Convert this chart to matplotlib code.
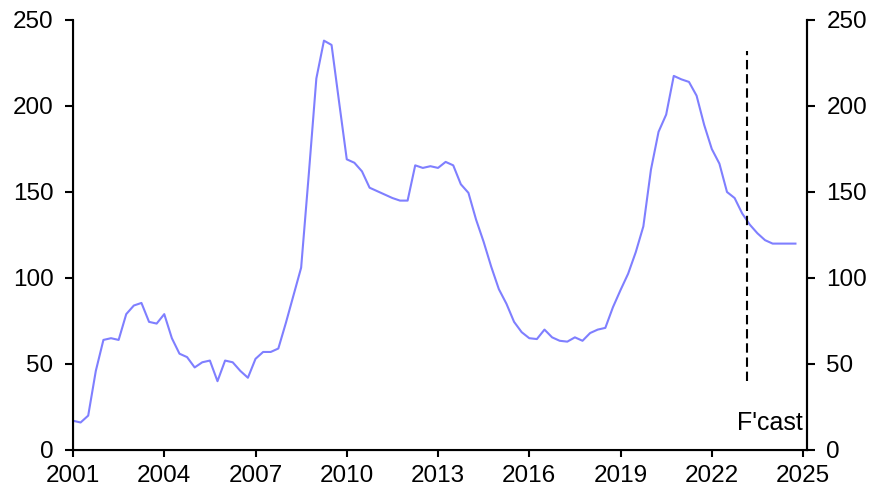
import numpy as np
import matplotlib
matplotlib.use("Agg")
import matplotlib.pyplot as plt

plt.rcParams['font.family'] = ['Liberation Sans', 'DejaVu Sans']

# quarterly series, 2001 Q1 to 2024 Q4 (last quarters are forecast)
start_year = 2001
values = [
    17, 16, 20, 46,          # 2001
    64, 65, 64, 79,          # 2002
    84, 85.5, 74.5, 73.5,    # 2003
    79, 65, 56, 54,          # 2004
    48, 51, 52, 40,          # 2005
    52, 51, 46, 42,          # 2006
    53, 57, 57, 59,          # 2007
    74, 90, 106, 160,        # 2008
    216, 238, 235.5, 202,    # 2009
    169, 167, 162, 152.5,    # 2010
    150.5, 148.5, 146.5, 145,  # 2011
    145, 165.5, 164, 165,    # 2012
    164, 167.5, 165.5, 154.5,  # 2013
    149.5, 134, 121, 106.5,  # 2014
    93.5, 85, 74.5, 68.5,    # 2015
    65, 64.5, 70, 65.5,      # 2016
    63.5, 63, 65.5, 63.5,    # 2017
    68, 70, 71, 83,          # 2018
    93, 102.5, 115, 130,     # 2019
    163, 185, 195, 217.5,    # 2020
    215.5, 214, 206, 189,    # 2021
    175, 166.5, 150, 146.5,  # 2022
    137.5, 131, 126, 122,    # 2023
    120, 120, 120, 120,      # 2024
]
dates = start_year + np.arange(len(values)) / 4

forecast_start = 2023.15
xticks = [2001, 2004, 2007, 2010, 2013, 2016, 2019, 2022, 2025]
yticks = [0, 50, 100, 150, 200, 250]

fig = plt.figure(figsize=(8.84, 4.92), dpi=100)
ax = fig.add_axes([73 / 884, 42 / 492, (807 - 73) / 884, 430 / 492])

ax.plot(dates, values, color='#7f7fff', lw=1.5)
ax.plot([forecast_start, forecast_start], [40, 232], color='black', lw=1.5,
        linestyle=(0, (4.5, 2.3)))
ax.text(2025.0, 11.6, "F'cast", fontsize=18, ha='right', va='baseline')

ax.set_xlim(2001, 2025.13)
ax.set_ylim(0, 250)
ax.set_xticks(xticks)
ax.set_yticks(yticks)
ax.tick_params(axis='y', direction='out', length=6, width=1.5,
               labelsize=17.5, pad=8)
ax.tick_params(axis='x', direction='out', length=5, width=1.5,
               labelsize=17.5, pad=6)
ax.spines['top'].set_visible(False)
for s in ['left', 'bottom', 'right']:
    ax.spines[s].set_linewidth(1.5)

ax2 = ax.twinx()
ax2.set_ylim(0, 250)
ax2.set_yticks(yticks)
ax2.tick_params(axis='y', direction='out', length=6, width=1.5,
                labelsize=17.5, pad=8)
ax2.spines['top'].set_visible(False)
ax2.spines['right'].set_linewidth(1.5)

fig.savefig('out.png', dpi=100)
